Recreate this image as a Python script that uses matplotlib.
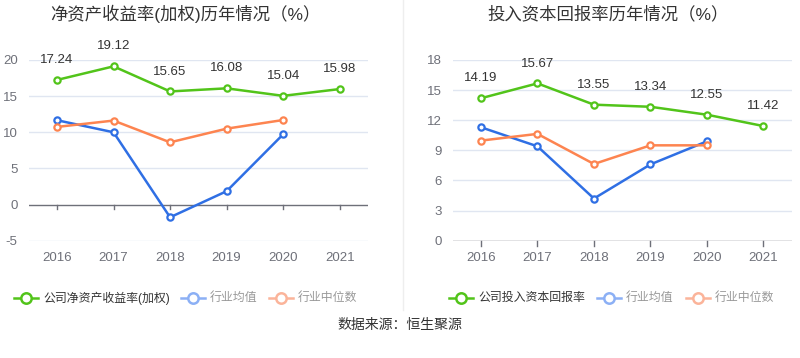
import matplotlib.pyplot as plt
from matplotlib.lines import Line2D

plt.rcParams['font.family'] = ['Liberation Sans', 'Noto Sans CJK SC', 'DejaVu Sans']

years = ['2016', '2017', '2018', '2019', '2020', '2021']

roe_company = [17.24, 19.12, 15.65, 16.08, 15.04, 15.98]
roe_mean = [11.67, 10.0, -1.76, 1.85, 9.72]
roe_median = [10.74, 11.62, 8.61, 10.5, 11.7]

roic_company = [14.19, 15.67, 13.55, 13.34, 12.55, 11.42]
roic_mean = [11.3, 9.4, 4.2, 7.6, 9.9]
roic_median = [9.97, 10.64, 7.64, 9.5, 9.5]

green = '#52c41a'
blue = '#2f6fe4'
orange = '#fd8450'
grid_c = '#e0e6f1'
axis_c = '#6e7079'

W, H = 800, 358
fig = plt.figure(figsize=(8, 3.58), dpi=100)


def px(x0, y0, x1, y1):
    return [x0 / W, 1 - y1 / H, (x1 - x0) / W, (y1 - y0) / H]


def draw(ax, comp, mean, med, ymin, ymax, step):
    x = list(range(len(years)))
    ax.set_xlim(-0.5, len(years) - 0.5)
    ax.set_ylim(ymin, ymax)
    ticks = list(range(ymin, ymax + 1, step))
    for t in ticks:
        if t != 0:
            ax.axhline(t, color=grid_c, lw=1, zorder=0)
    ax.axhline(0, color=axis_c, lw=1, zorder=1)
    mk = dict(marker='o', ms=4.5, mfc='white', mew=1.6)
    ax.plot(x[:len(mean)], mean, color=blue, lw=1.8, mec=blue, zorder=3, **mk)
    ax.plot(x[:len(med)], med, color=orange, lw=1.8, mec=orange, zorder=3, **mk)
    ax.plot(x, comp, color=green, lw=1.8, mec=green, zorder=4, **mk)
    for xi, v in zip(x, comp):
        ax.annotate(f'{v:.2f}', (xi, v), xytext=(0, 10), textcoords='offset points',
                    ha='center', va='bottom', fontsize=9.5, color='#333333')
    ax.set_yticks(ticks)
    ax.set_yticklabels([str(t) for t in ticks])
    ax.set_xticks(x)
    ax.set_xticklabels(years)
    for s in ax.spines.values():
        s.set_visible(False)
    ax.tick_params(axis='y', length=0, pad=8, labelsize=9.5, labelcolor=axis_c)
    ax.tick_params(axis='x', length=0, pad=8, labelsize=9.5, labelcolor=axis_c)
    # small ticks under the zero line
    rng = ymax - ymin
    for xi in x:
        ax.plot([xi, xi], [0, -rng * 0.027], color=axis_c, lw=1, clip_on=False, zorder=1)


ax1 = fig.add_axes(px(28.7, 60, 368, 240.7))
draw(ax1, roe_company, roe_mean, roe_median, -5, 20, 5)

ax2 = fig.add_axes(px(452.7, 60, 791.7, 240.7))
draw(ax2, roic_company, roic_mean, roic_median, 0, 18, 3)

fig.text(185 / W, 1 - 14 / H, '净资产收益率(加权)历年情况（%）', ha='center', va='center',
         fontsize=12.5, color='#333333')
fig.text(608 / W, 1 - 14 / H, '投入资本回报率历年情况（%）', ha='center', va='center',
         fontsize=12.5, color='#333333')

# separator
fig.add_artist(Line2D([403 / W, 403 / W], [1, 1 - 310 / H], color='#eeeeee', lw=1))


def legend_item(x0, y, color, label, tcolor):
    yy = 1 - y / H
    fig.add_artist(Line2D([x0 / W, (x0 + 24) / W], [yy, yy], color=color, lw=1.8))
    fig.add_artist(Line2D([(x0 + 12) / W], [yy], marker='o', ms=7.5, mfc='white',
                          mec=color, mew=1.8, color=color))
    fig.text((x0 + 29) / W, yy, label, ha='left', va='center', fontsize=8.6, color=tcolor)


ly = 298
legend_item(14, ly, green, '公司净资产收益率(加权)', '#333333')
legend_item(181, ly, '#8cb0f5', '行业均值', '#999999')
legend_item(269, ly, '#fbb49a', '行业中位数', '#999999')
legend_item(449, ly, green, '公司投入资本回报率', '#333333')
legend_item(597, ly, '#8cb0f5', '行业均值', '#999999')
legend_item(686, ly, '#fbb49a', '行业中位数', '#999999')

fig.text(400 / W, 1 - 325 / H, '数据来源：恒生聚源', ha='center', va='center',
         fontsize=10, color='#333333')

fig.savefig('out.png', dpi=100)
